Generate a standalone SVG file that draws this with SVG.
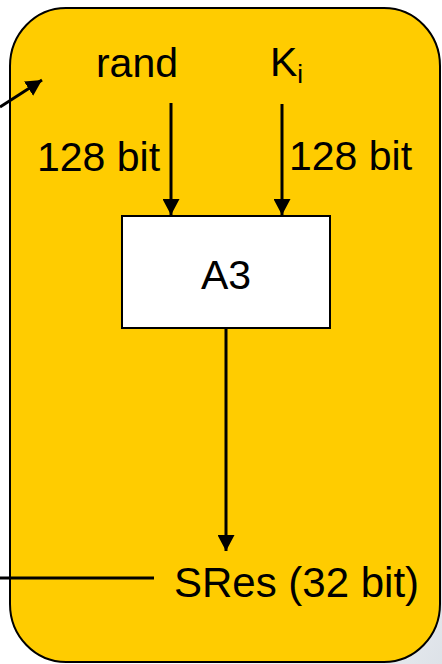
<svg xmlns="http://www.w3.org/2000/svg" width="442" height="664" viewBox="0 0 442 664">
<defs>
<linearGradient id="bg" x1="0" y1="0" x2="1" y2="1">
<stop offset="0" stop-color="#ffffff"/>
<stop offset="0.7" stop-color="#ffffff"/>
<stop offset="1" stop-color="#dde2e8"/>
</linearGradient>
<marker id="ah" markerUnits="userSpaceOnUse" markerWidth="17" markerHeight="17" viewBox="0 0 17 17" refX="16" refY="8.5" orient="auto">
<path d="M0,0 L16,8.5 L0,17 Z" fill="#000"/>
</marker>
<style>
.t{font-family:"Liberation Sans",Arial,sans-serif;font-size:41px;fill:#000}
.c{stroke:#000;stroke-width:3;fill:none}
</style>
</defs>
<rect x="0" y="0" width="442" height="664" fill="url(#bg)"/>
<g id="container">
<rect x="10" y="8" width="430" height="654" rx="56" ry="58" fill="#ffcc00" stroke="#000" stroke-width="2"/>
</g>
<g id="a3">
<rect x="122" y="216" width="208" height="112" fill="#fff" stroke="#000" stroke-width="2"/>
<text class="t" x="226" y="289" text-anchor="middle">A3</text>
</g>
<g id="rand"><text class="t" x="137" y="77" text-anchor="middle">rand</text></g>
<g id="ki"><text class="t" x="270" y="76">K<tspan font-size="26" dy="7">i</tspan></text></g>
<g id="sres"><text class="t" x="174" y="597" style="font-size:42px">SRes (32 bit)</text></g>
<g id="connectors">
<line class="c" x1="171" y1="103" x2="171" y2="215" marker-end="url(#ah)"/>
<line class="c" x1="282" y1="104" x2="282" y2="215" marker-end="url(#ah)"/>
<line class="c" x1="226" y1="328" x2="226" y2="551" marker-end="url(#ah)"/>
<line class="c" x1="0" y1="107" x2="42" y2="80" marker-end="url(#ah)"/>
<line class="c" x1="0" y1="578" x2="154" y2="578"/>
<text class="t" x="37" y="171">128 bit</text>
<text class="t" x="289" y="170">128 bit</text>
</g>
</svg>
